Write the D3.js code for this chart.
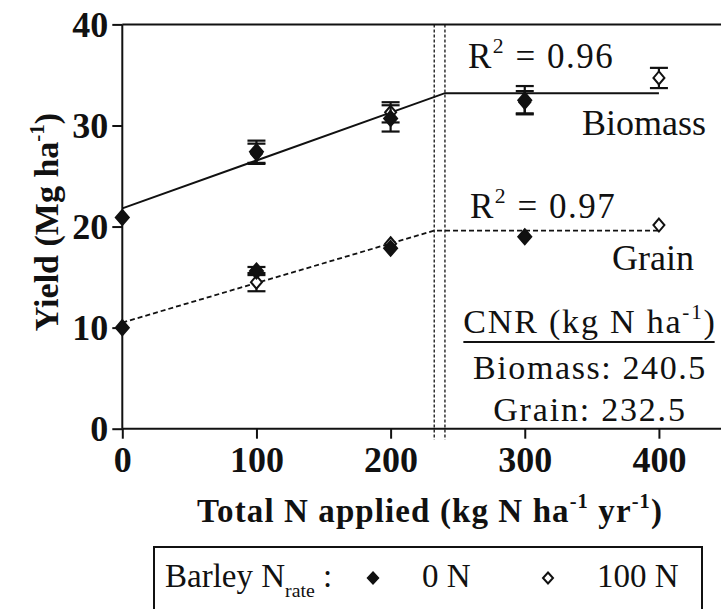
<!DOCTYPE html>
<html>
<head>
<meta charset="utf-8">
<script src="https://cdn.jsdelivr.net/npm/d3@7"></script>
<style>
  body { margin: 0; background: #fff; }
</style>
</head>
<body>
<div id="chart"></div>
<script>
// total N applied for each barley N rate
const nApplied0N = [0, 100, 200, 300];
const nApplied100N = [100, 200, 300, 400];

// biomass yield (Mg/ha) and SE
const biomass0N = [20.9, 27.4, 30.7, 32.5];
const biomass0NErr = [0, 1.1, 1.3, 1.4];
const biomass100N = [27.2, 31.3, 32.3, 34.7];
const biomass100NErr = [1.0, 1.0, 1.1, 1.0];

// grain yield (Mg/ha) and SE
const grain0N = [10.0, 15.6, 17.85, 19.0];
const grain0NErr = [0, 0.4, 0, 0];
const grain100N = [14.5, 18.3, 19.0, 20.15];
const grain100NErr = [0.9, 0, 0, 0];

// linear-plateau fits
const biomassFitX = [0, 240.5, 400];
const biomassFitY = [21.8, 33.2, 33.2];
const grainFitX = [0, 232.5, 400];
const grainFitY = [10.5, 19.6, 19.6];
const cnrValues = [232.5, 240.5];

const xTicks = [0, 100, 200, 300, 400];
const yTicks = [0, 10, 20, 30, 40];

const width = 721, height = 609;
const serif = '"Liberation Serif", "Times New Roman", Times, serif';

const svg = d3.select("#chart").append("svg")
  .attr("width", width).attr("height", height)
  .attr("font-family", serif);

const x = d3.scaleLinear().domain([0, 450]).range([122.3, 726]);
const y = d3.scaleLinear().domain([0, 40]).range([428.7, 24.4]);

// axes
const xAxis = svg.append("g")
  .attr("transform", `translate(0,${y(0)})`)
  .call(d3.axisBottom(x).tickValues(xTicks).tickSize(10).tickPadding(8));
const yAxis = svg.append("g")
  .attr("transform", `translate(${x(0)},0)`)
  .call(d3.axisLeft(y).tickValues(yTicks).tickSize(10).tickPadding(4));

[xAxis, yAxis].forEach((a) => {
  a.attr("font-family", serif);
  a.select(".domain").attr("stroke", "#111").attr("stroke-width", 2);
  a.selectAll(".tick line").attr("stroke", "#111").attr("stroke-width", 2);
  a.selectAll(".tick text")
    .style("font-family", serif)
    .style("font-weight", "bold")
    .style("font-size", "36px")
    .attr("fill", "#111");
});
xAxis.select(".domain").attr("d", `M${x(0)},0H${x(450)}`);
yAxis.select(".domain").attr("d", `M0,${y(0)}V${y(40)}`);
yAxis.selectAll(".tick text").attr("dy", "0.34em");

// top frame line
svg.append("line")
  .attr("x1", x(0)).attr("x2", x(450))
  .attr("y1", y(40)).attr("y2", y(40))
  .attr("stroke", "#111").attr("stroke-width", 2);

// CNR dotted verticals
svg.selectAll(".cnr").data(cnrValues).enter().append("line")
  .attr("class", "cnr")
  .attr("x1", (d) => x(d)).attr("x2", (d) => x(d))
  .attr("y1", y(40)).attr("y2", y(0) + 11)
  .attr("stroke", "#111").attr("stroke-width", 1.3)
  .attr("stroke-dasharray", "3,2");

// fitted lines
const fitLine = d3.line().x((d) => x(d[0])).y((d) => y(d[1]));
svg.append("path")
  .attr("d", fitLine(d3.zip(biomassFitX, biomassFitY)))
  .attr("fill", "none").attr("stroke", "#111").attr("stroke-width", 2);
svg.append("path")
  .attr("d", fitLine(d3.zip(grainFitX, grainFitY)))
  .attr("fill", "none").attr("stroke", "#111").attr("stroke-width", 1.8)
  .attr("stroke-dasharray", "5,3");

// diamond marker
const diamond = (hw, hh) => `M0,${-hh}L${hw},0L0,${hh}L${-hw},0Z`;

function drawSeries(xs, ys, errs, filled) {
  const pts = xs.map((v, i) => ({ x: v, y: ys[i], e: errs[i] }));
  const g = svg.append("g");
  const eb = g.selectAll(".err").data(pts.filter((d) => d.e > 0)).enter().append("g")
    .attr("stroke", "#111").attr("stroke-width", 2.2);
  eb.append("line")
    .attr("x1", (d) => x(d.x)).attr("x2", (d) => x(d.x))
    .attr("y1", (d) => y(d.y + d.e)).attr("y2", (d) => y(d.y - d.e));
  eb.append("line")
    .attr("x1", (d) => x(d.x) - 9).attr("x2", (d) => x(d.x) + 9)
    .attr("y1", (d) => y(d.y + d.e)).attr("y2", (d) => y(d.y + d.e));
  eb.append("line")
    .attr("x1", (d) => x(d.x) - 9).attr("x2", (d) => x(d.x) + 9)
    .attr("y1", (d) => y(d.y - d.e)).attr("y2", (d) => y(d.y - d.e));
  g.selectAll(".pt").data(pts).enter().append("path")
    .attr("transform", (d) => `translate(${x(d.x)},${y(d.y)})`)
    .attr("d", filled ? diamond(6.5, 7.5) : diamond(5.5, 6.5))
    .attr("fill", filled ? "#111" : "#fff")
    .attr("stroke", "#111").attr("stroke-width", 2);
}
drawSeries(nApplied100N, biomass100N, biomass100NErr, false);
drawSeries(nApplied0N, biomass0N, biomass0NErr, true);
drawSeries(nApplied100N, grain100N, grain100NErr, false);
drawSeries(nApplied0N, grain0N, grain0NErr, true);

// annotation helper: text with optional super/subscripts
function richText(xp, yp, parts, opts) {
  const t = svg.append("text").attr("x", xp).attr("y", yp)
    .attr("fill", "#111")
    .style("font-family", serif)
    .style("font-size", opts.size + "px")
    .style("font-weight", opts.bold ? "bold" : "normal")
    .style("letter-spacing", (opts.ls || 0) + "px")
    .attr("text-anchor", opts.anchor || "start");
  if (opts.rotate) t.attr("transform", `rotate(-90,${xp},${yp})`);
  let shift = 0;
  parts.forEach((p) => {
    const s = t.append("tspan").text(p.t).style("font-family", serif);
    let target = 0, fs = opts.size;
    if (p.sup) { target = -opts.size * 0.42; fs = opts.size * 0.62; }
    if (p.sub) { target = opts.size * 0.3; fs = opts.size * 0.6; }
    s.style("font-size", fs + "px");
    if (target !== shift) { s.attr("dy", target - shift); shift = target; }
  });
  return t;
}

richText(468, 68, [{ t: "R" }, { t: "2", sup: true }, { t: " = 0.96" }], { size: 35, ls: 1.5 });
richText(582, 135, [{ t: "Biomass" }], { size: 36 });
richText(470, 218, [{ t: "R" }, { t: "2", sup: true }, { t: " = 0.97" }], { size: 35, ls: 1.5 });
richText(612, 270, [{ t: "Grain" }], { size: 36 });

const cnr = richText(590, 333, [{ t: "CNR (kg N ha" }, { t: "-1", sup: true }, { t: ")" }], { size: 34, anchor: "middle", ls: 1.8 });
const cb = cnr.node().getBBox();
svg.append("line")
  .attr("x1", cb.x).attr("x2", cb.x + cb.width - 2)
  .attr("y1", 342).attr("y2", 342)
  .attr("stroke", "#111").attr("stroke-width", 1.8);
richText(590, 379, [{ t: "Biomass: 240.5" }], { size: 34, anchor: "middle", ls: 1.6 });
richText(590, 421, [{ t: "Grain: 232.5" }], { size: 34, anchor: "middle", ls: 1.8 });

// axis titles
richText(430, 522, [
  { t: "Total N applied (kg N ha" }, { t: "-1", sup: true },
  { t: " yr" }, { t: "-1", sup: true }, { t: ")" }
], { size: 33, bold: true, anchor: "middle", ls: 1.1 });
richText(58, 222, [{ t: "Yield (Mg ha" }, { t: "-1", sup: true }, { t: ")" }],
  { size: 34, bold: true, anchor: "middle", rotate: true });

// legend
svg.append("rect")
  .attr("x", 154).attr("y", 547).attr("width", 548).attr("height", 80)
  .attr("fill", "none").attr("stroke", "#111").attr("stroke-width", 2);
richText(165, 587, [{ t: "Barley N" }, { t: "rate", sub: true }, { t: " :" }], { size: 33 });
svg.append("path").attr("transform", "translate(373,578)")
  .attr("d", diamond(5.5, 6)).attr("fill", "#111").attr("stroke", "#111").attr("stroke-width", 1.5);
richText(422, 587, [{ t: "0 N" }], { size: 33 });
svg.append("path").attr("transform", "translate(548,578)")
  .attr("d", diamond(5, 5.5)).attr("fill", "#fff").attr("stroke", "#111").attr("stroke-width", 2);
richText(597, 587, [{ t: "100 N" }], { size: 33 });
</script>
</body>
</html>
